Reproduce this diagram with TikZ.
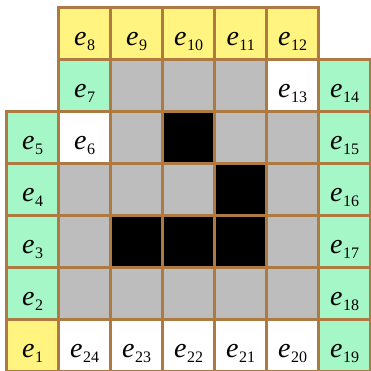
\documentclass[tikz,border=0pt]{standalone}
\usepackage{fontspec}
\setmainfont{Liberation Serif}
\definecolor{cyel}{HTML}{FFF480}
\definecolor{cgrn}{HTML}{A6F7C8}
\definecolor{cgry}{HTML}{BDBDBD}
\definecolor{cbrn}{HTML}{AE7A42}
\newcommand{\lbl}[1]{{\fontsize{28}{28}\selectfont\itshape e}\kern0.5pt\raisebox{-5pt}{\fontsize{16}{16}\selectfont #1}}
\begin{document}
\begin{tikzpicture}[x=1pt,y=-1pt,
  cell/.style={draw=cbrn, line width=3.5pt, minimum width=52pt, minimum height=52pt,
    inner sep=0pt, outer sep=0pt, text height=23pt, text depth=0pt}]
\useasboundingbox (0,0) rectangle (371,370);
\foreach \c/\r/\f/\t/\n in {
  1/0/cyel/8/e8, 2/0/cyel/9/e9, 3/0/cyel/10/e10, 4/0/cyel/11/e11, 5/0/cyel/12/e12,
  1/1/cgrn/7/e7, 2/1/cgry//g12, 3/1/cgry//g13, 4/1/cgry//g14, 5/1/white/13/e13, 6/1/cgrn/14/e14,
  0/2/cgrn/5/e5, 1/2/white/6/e6, 2/2/cgry//g22, 3/2/black//k23, 4/2/cgry//g24, 5/2/cgry//g25, 6/2/cgrn/15/e15,
  0/3/cgrn/4/e4, 1/3/cgry//g31, 2/3/cgry//g32, 3/3/cgry//g33, 4/3/black//k34, 5/3/cgry//g35, 6/3/cgrn/16/e16,
  0/4/cgrn/3/e3, 1/4/cgry//g41, 2/4/black//k42, 3/4/black//k43, 4/4/black//k44, 5/4/cgry//g45, 6/4/cgrn/17/e17,
  0/5/cgrn/2/e2, 1/5/cgry//g51, 2/5/cgry//g52, 3/5/cgry//g53, 4/5/cgry//g54, 5/5/cgry//g55, 6/5/cgrn/18/e18,
  0/6/cyel/1/e1, 1/6/white/24/e24, 2/6/white/23/e23, 3/6/white/22/e22, 4/6/white/21/e21, 5/6/white/20/e20, 6/6/cgrn/19/e19}
{
  \ifx\t\empty
    \node[cell, fill=\f] (\n) at ({32.7+52*\c},{33.7+52*\r}) {};
  \else
    \node[cell, fill=\f] (\n) at ({32.7+52*\c},{33.7+52*\r}) {\lbl{\t}};
  \fi
}
\end{tikzpicture}
\end{document}
